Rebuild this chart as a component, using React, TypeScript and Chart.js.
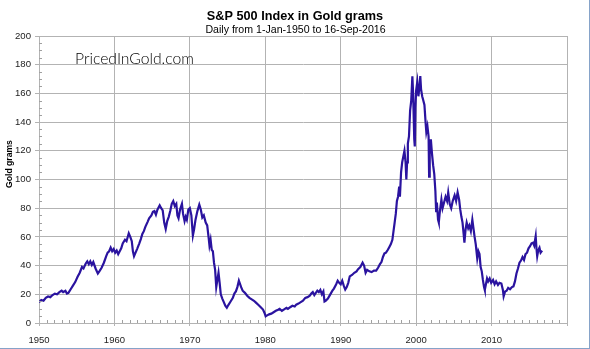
import { useEffect, useRef } from 'react';
import { Chart, registerables } from 'chart.js';

Chart.register(...registerables);

const TITLE = 'S&P 500 Index in Gold grams';
const SUBTITLE = 'Daily from 1-Jan-1950 to 16-Sep-2016';
const Y_TITLE = 'Gold grams';
const WATERMARK = 'PricedInGold.com';

const X_MIN = 1950;
const X_MAX = 2020;
const X_STEP = 10;
const X_LAST_LABEL = 2010;
const Y_MIN = 0;
const Y_MAX = 200;
const Y_STEP = 20;

const years = [
  1950.0, 1950.3, 1950.6, 1950.9, 1951.2, 1951.5, 1951.8, 1952.1, 1952.4, 1952.7,
  1953.0, 1953.2, 1953.5, 1953.7, 1953.9, 1954.2, 1954.5, 1954.8, 1955.1, 1955.4,
  1955.7, 1955.9, 1956.2, 1956.4, 1956.6, 1956.8, 1957.0, 1957.2, 1957.5, 1957.8,
  1958.0, 1958.3, 1958.6, 1958.9, 1959.1, 1959.3, 1959.5, 1959.7, 1959.9, 1960.1,
  1960.3, 1960.5, 1960.7, 1960.9, 1961.1, 1961.4, 1961.6, 1961.9, 1962.1, 1962.3,
  1962.45, 1962.6, 1962.8, 1963.0, 1963.3, 1963.5, 1963.7, 1963.9, 1964.1, 1964.4,
  1964.6, 1964.9, 1965.1, 1965.3, 1965.5, 1965.7, 1965.9, 1966.0, 1966.2, 1966.4,
  1966.6, 1966.8, 1967.0, 1967.2, 1967.4, 1967.6, 1967.8, 1968.0, 1968.2, 1968.35,
  1968.5, 1968.7, 1968.95, 1969.1, 1969.3, 1969.45, 1969.6, 1969.8, 1970.0, 1970.2,
  1970.4, 1970.55, 1970.75, 1971.0, 1971.25, 1971.45, 1971.65, 1971.85, 1972.1, 1972.3,
  1972.5, 1972.6, 1972.75, 1972.9, 1973.05, 1973.2, 1973.35, 1973.5, 1973.65, 1973.8,
  1973.95, 1974.1, 1974.3, 1974.5, 1974.7, 1974.9, 1975.1, 1975.4, 1975.7, 1975.9,
  1976.1, 1976.3, 1976.5, 1976.6, 1976.8, 1977.0, 1977.3, 1977.6, 1977.9, 1978.2,
  1978.5, 1978.8, 1979.1, 1979.4, 1979.7, 1979.9, 1980.05, 1980.3, 1980.5, 1980.8,
  1981.1, 1981.4, 1981.7, 1981.9, 1982.2, 1982.5, 1982.8, 1983.0, 1983.3, 1983.6,
  1983.9, 1984.1, 1984.4, 1984.7, 1985.0, 1985.3, 1985.6, 1985.9, 1986.1, 1986.3,
  1986.5, 1986.7, 1986.9, 1987.1, 1987.3, 1987.5, 1987.7, 1987.85, 1988.0, 1988.3,
  1988.6, 1988.9, 1989.1, 1989.4, 1989.6, 1989.8, 1990.0, 1990.2, 1990.4, 1990.6,
  1990.8, 1991.0, 1991.2, 1991.5, 1991.8, 1992.1, 1992.3, 1992.6, 1992.9, 1993.1,
  1993.3, 1993.5, 1993.8, 1994.1, 1994.4, 1994.7, 1994.95, 1995.2, 1995.4, 1995.6,
  1995.8, 1996.0, 1996.25, 1996.45, 1996.65, 1996.85, 1997.0, 1997.15, 1997.3, 1997.45,
  1997.6, 1997.75, 1997.85, 1998.0, 1998.15, 1998.3, 1998.45, 1998.6, 1998.7, 1998.8,
  1998.9, 1999.05, 1999.2, 1999.35, 1999.5, 1999.6, 1999.75, 1999.82, 1999.9, 2000.0,
  2000.15, 2000.3, 2000.45, 2000.55, 2000.65, 2000.8, 2000.95, 2001.1, 2001.25, 2001.35,
  2001.5, 2001.65, 2001.72, 2001.8, 2001.95, 2002.1, 2002.25, 2002.4, 2002.55, 2002.65,
  2002.75, 2002.9, 2003.0, 2003.15, 2003.35, 2003.5, 2003.7, 2003.9, 2004.1, 2004.25,
  2004.45, 2004.65, 2004.85, 2005.1, 2005.3, 2005.5, 2005.7, 2005.85, 2006.0, 2006.15,
  2006.3, 2006.4, 2006.55, 2006.7, 2006.9, 2007.05, 2007.25, 2007.45, 2007.6, 2007.75,
  2007.9, 2008.1, 2008.25, 2008.4, 2008.55, 2008.7, 2008.85, 2009.0, 2009.1, 2009.25,
  2009.4, 2009.55, 2009.75, 2009.95, 2010.2, 2010.4, 2010.6, 2010.85, 2011.05, 2011.3,
  2011.5, 2011.6, 2011.8, 2012.0, 2012.2, 2012.45, 2012.7, 2012.9, 2013.1, 2013.3,
  2013.5, 2013.7, 2013.9, 2014.1, 2014.3, 2014.5, 2014.7, 2014.9, 2015.1, 2015.3,
  2015.5, 2015.65, 2015.85, 2015.95, 2016.05, 2016.2, 2016.35, 2016.5, 2016.7,
];

const goldGrams = [
  14.5, 16, 15.5, 17.5, 18.5, 18, 19.5, 20.5, 20, 21.5,
  22.5, 21.5, 22.5, 20.5, 21, 23.5, 26, 28.5, 32, 35,
  39, 38, 41.5, 43, 41, 43, 40.5, 42.5, 38, 34.5,
  36, 38.5, 42, 46.5, 49, 50, 52.5, 50, 51.5, 49,
  50.5, 48, 50, 52, 55.5, 58, 57, 62.5, 60, 57,
  50, 46.5, 49, 51.5, 55.5, 58.5, 62, 64, 67, 70.5,
  73, 75, 77.5, 78, 75.5, 79, 81, 82, 80, 78.5,
  70, 65.5, 71, 74, 78, 83, 85, 81.5, 83, 75,
  73, 79, 83, 76, 71, 74, 72, 79, 80, 75,
  61, 65, 72, 78, 82.5, 79, 73.5, 75, 70, 68,
  59, 54, 58, 51, 50, 42, 37, 25, 30, 35,
  28, 20, 17, 14.5, 12, 10.6, 12.5, 15, 17.5, 20.5,
  22, 25, 29.5, 28, 25, 22.5, 21, 19, 17.5, 16.5,
  15.5, 14, 12.5, 11, 9.4, 7, 4.7, 5.5, 6, 6.5,
  7.5, 8.5, 9.2, 9.8, 8.5, 9.5, 10.5, 9.8, 11, 12,
  11.5, 12.8, 13.5, 14.5, 15.5, 17.5, 18, 19, 20.5, 21.5,
  19.5, 21, 22.5, 21.5, 23, 20, 22, 15, 15.5, 17,
  19.8, 22.5, 24, 27, 29.5, 28, 27, 29.5, 26, 23.3,
  25, 28, 32.5, 33.5, 35, 36, 37.5, 39, 42, 40,
  35, 37, 36, 35.5, 36.5, 36.5, 38.5, 41, 42.5, 46,
  48.5, 49, 51, 53, 55, 58, 64, 70, 76, 85,
  88, 95, 88, 105, 112, 116, 120, 112, 100, 112,
  125, 130, 148, 155, 172, 160, 128, 123, 150, 162,
  168, 158, 165, 172, 163, 158, 155, 152, 140, 133,
  137, 130, 102, 120, 128, 118, 110, 104, 92, 78,
  84, 72, 70, 78, 86, 80, 84, 88, 85, 91,
  83, 80, 85, 89, 85, 91, 86, 79, 74, 70,
  62, 56, 65, 70, 66, 68, 64, 72, 66, 60,
  55, 45, 50, 48, 39, 36, 30, 25, 23, 27,
  31, 29, 31, 28, 30, 27, 29, 26.5, 28, 27.5,
  23, 18.5, 22, 22.5, 24.5, 23.5, 25, 25.5, 29, 34.5,
  38, 42, 43.5, 46, 44, 48, 49, 52, 53.5, 55.5,
  56, 54, 60.5, 52, 46.5, 51, 52.5, 49, 50.5,
];

const FONT = '"Liberation Sans", Arial, sans-serif';
const GRID = '#b3b3b3';

const decorPlugin = {
  id: 'decor',
  afterDraw(chart: any) {
    const { ctx } = chart;
    const xs = chart.scales.x;
    const ys = chart.scales.y;
    const area = chart.chartArea;
    ctx.save();
    // minor ticks
    ctx.strokeStyle = '#a0a0a0';
    ctx.lineWidth = 1;
    ctx.beginPath();
    for (let v = X_MIN + 1; v < X_MAX; v++) {
      if (v % X_STEP === 0) continue;
      const px = Math.round(xs.getPixelForValue(v)) + 0.5;
      ctx.moveTo(px, area.bottom);
      ctx.lineTo(px, area.bottom - 3);
    }
    for (let v = Y_MIN + 5; v < Y_MAX; v += 5) {
      if (v % Y_STEP === 0) continue;
      const py = Math.round(ys.getPixelForValue(v)) + 0.5;
      ctx.moveTo(area.left, py);
      ctx.lineTo(area.left + 3, py);
    }
    ctx.stroke();

    // titles
    ctx.fillStyle = '#000';
    ctx.textAlign = 'center';
    ctx.textBaseline = 'alphabetic';
    ctx.font = `bold 12.7px ${FONT}`;
    ctx.fillText(TITLE, 295, 20);
    ctx.font = `10.6px ${FONT}`;
    ctx.fillText(SUBTITLE, 295.5, 33);

    // y axis title
    ctx.save();
    ctx.translate(12, 164);
    ctx.rotate(-Math.PI / 2);
    ctx.font = `bold 8.6px ${FONT}`;
    ctx.fillText(Y_TITLE, 0, 0);
    ctx.restore();

    // watermark
    ctx.textAlign = 'left';
    ctx.fillStyle = '#000';
    let size = 15;
    ctx.font = `300 ${size}px Lato, "DejaVu Sans", sans-serif`;
    const w = ctx.measureText(WATERMARK).width;
    size = size * 119 / w;
    ctx.font = `300 ${size}px Lato, "DejaVu Sans", sans-serif`;
    ctx.fillText(WATERMARK, 75, 63.5);
    ctx.restore();
  },
};

export default function App() {
  const ref = useRef<HTMLCanvasElement | null>(null);

  useEffect(() => {
    if (!ref.current) return;
    const points = years.map((x, i) => ({ x, y: goldGrams[i] }));
    const chart = new Chart(ref.current, {
      type: 'line',
      data: {
        datasets: [
          {
            data: points,
            borderColor: '#2a139f',
            borderWidth: 2.2,
            pointRadius: 0,
            tension: 0,
            fill: false,
          },
        ],
      },
      options: {
        animation: false,
        responsive: false,
        devicePixelRatio: 1,
        layout: { padding: { left: 0, top: 36, right: 23, bottom: 0 } },
        plugins: {
          legend: { display: false },
          title: { display: false },
          tooltip: { enabled: false },
        },
        scales: {
          x: {
            type: 'linear',
            min: X_MIN,
            max: X_MAX,
            afterFit: (s: any) => {
              s.height = 26;
            },
            ticks: {
              stepSize: X_STEP,
              autoSkip: false,
              maxRotation: 0,
              padding: 9,
              color: '#222',
              font: { family: FONT, size: 9.5 },
              callback: (v: any) => (v > X_LAST_LABEL ? '' : String(v)),
            },
            grid: { color: GRID, tickLength: 3, tickColor: GRID },
            border: { display: true, color: GRID },
          },
          y: {
            type: 'linear',
            min: Y_MIN,
            max: Y_MAX,
            afterFit: (s: any) => {
              s.width = 39;
            },
            ticks: {
              stepSize: Y_STEP,
              autoSkip: false,
              padding: 4,
              color: '#222',
              font: { family: FONT, size: 9.6 },
              callback: (v: any) => String(v),
            },
            grid: { color: GRID, tickLength: 4, tickColor: GRID },
            border: { display: true, color: GRID },
          },
        },
      },
      plugins: [decorPlugin],
    });
    return () => chart.destroy();
  }, []);

  return (
    <div style={{ position: 'fixed', left: 0, top: 0, width: 590, height: 349, background: '#fff' }}>
      <canvas ref={ref} width={590} height={349} style={{ display: 'block' }} />
      <div style={{ position: 'absolute', left: 0, top: 348, width: 590, height: 1, background: '#86a3c9' }} />
      <div style={{ position: 'absolute', left: 589, top: 0, width: 1, height: 349, background: '#86a3c9' }} />
    </div>
  );
}
